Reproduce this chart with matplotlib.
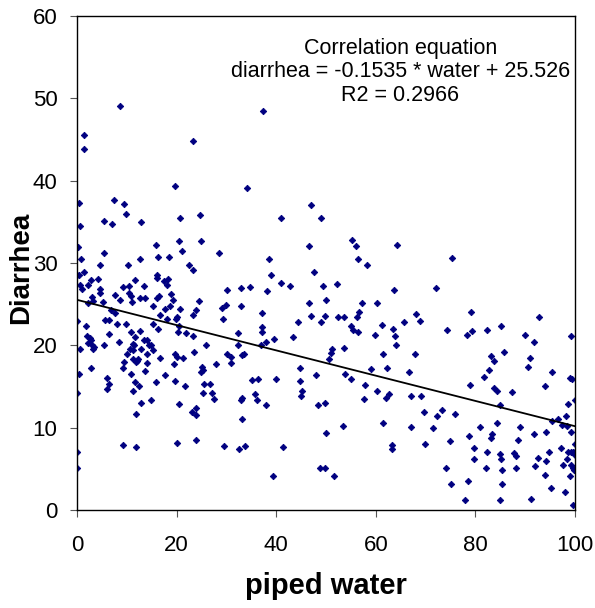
import numpy as np
import matplotlib
matplotlib.use("Agg")
import matplotlib.pyplot as plt

plt.rcParams["font.family"] = ["Liberation Sans", "DejaVu Sans"]

# ------------------------------------------------------------
# data (piped water %, diarrhea %)
# ------------------------------------------------------------
water = [
    8.6, 1.4, 1.5, 23.2, 19.7, 0.5, 7.5, 9.4, 9.8, 5.4, 7.0, 12.9, 0.7, 20.7, 24.7, 0.3,
    15.9, 20.5, 24.8, 21.1, 5.5, 28.6, 16.3, 18.5, 12.7, 0.8,
    37.3, 34.1, 46.9, 41.0, 48.9, 55.3, 56.0, 46.5, 64.3, 38.5, 56.5, 75.4,
    1.5, 0.1, 0.5, 4.6, 10.2, 22.4, 23.2, 2.9, 2.2, 4.3, 0.7, 1.0, 11.7, 16.1, 16.1, 17.5,
    18.2, 18.1, 9.2, 10.4, 13.5, 4.6, 4.6, 3.0, 7.7, 8.7, 10.5, 10.8, 11.1, 12.6, 13.7, 16.1,
    16.5, 18.8, 19.2, 18.6, 5.2, 2.3, 3.3, 15.2, 17.7, 16.7, 20.7, 20.1, 19.9, 18.0, 24.4, 23.9,
    23.2, 30.1, 29.9, 29.2, 29.4, 6.9, 7.7, 0.1, 5.6, 6.4, 1.9, 8.0, 9.8, 15.3, 16.3, 20.4,
    20.3, 21.9, 23.2, 6.4, 10.8, 12.7, 2.1, 2.6, 2.8, 2.2, 3.0, 3.3, 3.4, 0.6, 5.4, 8.5,
    11.7, 13.5, 14.1, 11.2, 10.6, 11.4, 14.5, 14.9, 15.2, 12.8, 11.2, 10.0, 14.0, 11.3, 12.0, 12.3,
    11.9, 9.4, 14.0, 16.7, 19.6, 20.0, 21.2, 19.5, 23.5, 25.9, 30.1, 31.0, 31.0, 27.9, 2.8, 9.2,
    13.7, 10.8, 0.5, 25.2, 25.4, 24.8, 17.6, 6.0, 6.4, 6.0, 11.7, 12.4, 11.3, 15.9, 19.7, 21.7,
    25.5, 26.7, 25.4, 27.2, 27.5, 0.1, 12.8, 14.9, 20.4, 11.8, 23.0, 23.8, 23.9, 9.2, 11.8, 20.0,
    23.8, 29.5, 0.1, 0.1,
    58.2, 39.0, 47.5, 32.9, 34.8, 38.1, 41.0, 42.7, 49.4, 52.2, 63.7, 32.9, 37.1, 46.5, 50.1, 57.2,
    60.2, 46.9, 49.7, 49.0, 44.4, 52.4, 53.6, 56.2, 56.6, 37.1, 37.2, 32.4, 37.9, 39.6, 43.4, 32.4,
    33.1, 33.6, 37.0, 55.0, 55.5, 56.5, 53.6, 51.3, 51.0, 50.7, 59.8, 61.2, 63.4, 63.9, 64.1, 65.7,
    61.4, 62.2, 59.1, 44.8, 44.7, 48.0, 53.8, 55.0, 57.8, 60.2, 57.6, 62.0, 62.7, 35.2, 36.3, 40.0,
    35.8, 36.2, 33.2, 33.0, 37.9, 45.2, 45.0, 48.4, 49.7, 33.1, 53.4, 50.1, 61.4, 32.5, 33.7, 41.4,
    63.3, 63.2, 39.4, 48.7, 49.7, 51.7,
    72.1, 68.1, 68.9, 79.2, 92.8, 74.2, 78.3, 79.3, 82.3, 85.1, 89.9, 91.8, 99.1, 67.9, 66.6, 83.2,
    83.8, 85.7, 82.8, 81.7, 79.0, 91.0, 90.5, 95.4, 98.9, 99.3, 94.0, 83.8, 84.4, 87.4, 67.1, 69.1,
    84.9, 100.0, 98.5, 69.6, 73.3, 72.3, 76.0, 95.4, 96.6, 98.1, 97.3, 98.3, 99.2, 67.1, 71.5, 80.9,
    84.3, 89.0, 94.2, 78.8, 83.3, 83.2, 91.8, 88.6, 74.8, 69.8, 100.0, 79.8, 82.3, 84.9, 85.1, 87.8,
    88.2, 94.7, 97.1, 98.5, 99.1, 99.6, 99.9, 100.0, 79.7, 92.6, 94.1, 98.4, 97.5, 99.1, 99.5, 99.8,
    74.1, 82.1, 85.3, 88.2, 92.0, 98.9, 94.0, 75.0, 78.6, 85.3, 95.1, 97.9, 78.0, 84.9, 91.2, 99.6,
]
diarrhea = [
    49.1, 45.5, 43.9, 44.8, 39.4, 37.3, 37.7, 37.2, 36.0, 35.1, 34.7, 35.0, 34.5, 35.5, 35.8, 32.0,
    32.2, 32.7, 32.7, 31.5, 31.2, 31.2, 30.7, 30.7, 30.5, 30.5,
    48.4, 39.1, 37.0, 35.5, 35.5, 32.8, 32.1, 32.1, 32.2, 30.5, 30.5, 30.6,
    28.9, 28.5, 28.5, 29.7, 29.8, 29.8, 29.2, 27.9, 27.3, 28.1, 27.3, 26.8, 27.9, 28.6, 28.2, 27.8,
    28.1, 27.3, 27.1, 27.2, 27.2, 26.8, 26.4, 25.9, 26.1, 25.5, 26.3, 26.0, 25.3, 25.7, 25.7, 25.7,
    26.0, 26.2, 25.5, 24.8, 25.3, 25.1, 25.4, 24.8, 24.4, 23.7, 24.4, 23.5, 23.2, 23.2, 25.4, 24.3,
    23.7, 26.7, 24.9, 24.5, 23.2, 24.3, 23.9, 23.0, 23.1, 23.1, 22.3, 22.6, 22.6, 22.6, 22.0, 22.3,
    21.6, 21.5, 21.1, 21.4, 21.6, 21.7, 21.1, 20.9, 20.6, 20.3, 20.1, 19.5, 19.8, 19.6, 20.0, 20.4,
    21.0, 20.7, 20.7, 20.2, 19.6, 20.0, 20.1, 20.0, 19.4, 19.5, 19.4, 18.9, 18.9, 18.3, 18.1, 18.3,
    18.0, 18.0, 17.8, 18.5, 18.9, 18.6, 18.4, 17.7, 19.2, 20.0, 18.9, 18.6, 17.8, 17.7, 17.2, 17.3,
    16.9, 16.5, 16.5, 17.4, 17.0, 16.8, 16.4, 16.0, 15.3, 14.7, 15.5, 15.0, 14.5, 15.5, 15.7, 15.1,
    15.3, 15.3, 14.2, 14.2, 13.5, 14.2, 13.0, 13.4, 12.9, 11.7, 11.9, 12.4, 11.5, 7.9, 7.7, 8.1,
    8.5, 7.8, 7.0, 5.1,
    29.8, 28.6, 28.9, 27.0, 27.1, 26.6, 27.6, 27.2, 27.2, 27.4, 26.7, 24.8, 23.9, 25.1, 25.5, 25.1,
    25.1, 23.6, 23.6, 22.8, 22.8, 23.4, 23.5, 23.5, 24.0, 22.2, 21.6, 21.5, 20.4, 20.8, 21.0, 20.0,
    18.8, 18.9, 20.0, 22.3, 21.9, 21.6, 19.7, 19.5, 19.1, 18.3, 21.3, 22.5, 22.0, 21.1, 20.0, 22.8,
    19.0, 17.2, 17.1, 17.3, 15.7, 16.4, 16.5, 15.9, 15.2, 14.5, 13.5, 13.6, 14.1, 15.8, 15.9, 15.9,
    14.1, 13.3, 13.6, 13.3, 12.8, 14.5, 13.8, 12.7, 13.0, 11.1, 10.2, 9.4, 10.6, 7.4, 7.8, 7.6,
    7.9, 7.4, 4.1, 5.1, 5.1, 4.1,
    27.0, 23.8, 23.0, 24.1, 23.4, 21.9, 21.3, 21.8, 21.9, 22.3, 21.3, 20.4, 21.1, 18.9, 16.7, 18.7,
    18.1, 19.2, 17.0, 16.1, 15.2, 18.4, 17.4, 16.7, 16.0, 15.9, 15.1, 14.8, 14.5, 14.3, 13.8, 13.8,
    12.8, 13.4, 12.9, 11.9, 12.1, 11.4, 11.7, 10.8, 11.1, 11.4, 10.3, 10.2, 9.5, 10.1, 9.9, 10.1,
    10.6, 10.1, 9.5, 9.0, 9.2, 8.7, 9.2, 8.5, 8.4, 8.0, 8.0, 7.5, 7.1, 6.8, 6.2, 6.9,
    6.6, 7.1, 7.5, 7.1, 7.1, 7.0, 7.1, 6.7, 6.2, 6.3, 6.0, 6.2, 5.5, 5.5, 5.1, 4.9,
    5.1, 5.1, 4.8, 5.1, 5.3, 4.1, 4.2, 3.2, 3.5, 3.2, 2.7, 2.2, 1.2, 1.2, 1.3, 0.6,
]

# regression reported on the chart
slope = -0.1535
intercept = 25.526
r2 = 0.2966

x_ticks = [0, 20, 40, 60, 80, 100]
y_ticks = [0, 10, 20, 30, 40, 50, 60]

# ------------------------------------------------------------
# figure
# ------------------------------------------------------------
fig = plt.figure(figsize=(5.95, 6.08), dpi=100)
ax = fig.add_axes([0.1294, 0.1612, 0.8370, 0.8125])

ax.plot(water, diarrhea, linestyle="none", marker="D", ms=3.3,
        color="#000080", mec="#000080", mew=0.6)

fit_x = np.array([0, 100])
ax.plot(fit_x, slope * fit_x + intercept, color="black", lw=1.3)

ax.set_xlim(0, 100)
ax.set_ylim(0, 60)
ax.set_xticks(x_ticks)
ax.set_yticks(y_ticks)
ax.tick_params(axis="both", labelsize=16, direction="out", length=5, color="#555555")
ax.tick_params(axis="x", pad=13)
ax.tick_params(axis="y", pad=9)

for side in ["left", "bottom", "top", "right"]:
    ax.spines[side].set_color("black")
    ax.spines[side].set_linewidth(1.0)

ax.set_xlabel("piped water", fontsize=21, fontweight="bold")
ax.set_ylabel("Diarrhea", fontsize=20, fontweight="bold")
ax.xaxis.set_label_coords(0.5, -0.125)
ax.yaxis.set_label_coords(-0.087, 0.49)

ax.text(64.9, 53.2,
        "Correlation equation\n"
        f"diarrhea = {slope} * water + {intercept}\n"
        f"R2 = {r2}",
        ha="center", va="center", multialignment="center",
        fontsize=15.5, linespacing=1.15)

fig.savefig("out.png", dpi=100)
